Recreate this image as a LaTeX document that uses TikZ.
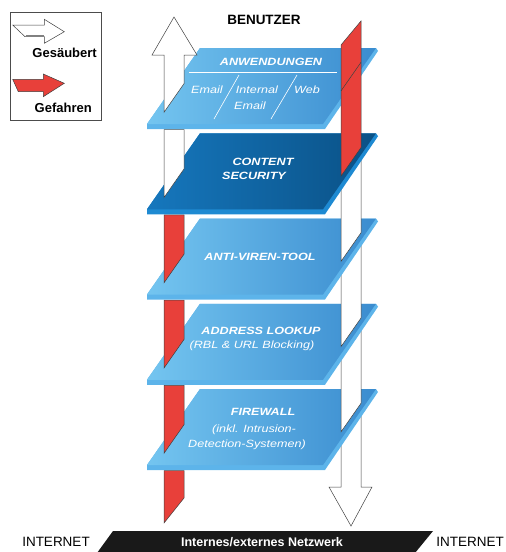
\documentclass[tikz,border=0pt]{standalone}
\usepackage{fontspec}
\setmainfont{Liberation Sans}
\newfontfamily\platebf[FakeStretch=1.2]{Liberation Sans Bold Italic}
\newfontfamily\plateit[FakeStretch=1.2]{Liberation Sans Italic}
\usetikzlibrary{positioning}

\definecolor{plateL}{HTML}{74C5F0}
\definecolor{plateR}{HTML}{3A8CCF}
\definecolor{plateEdge}{HTML}{5DB4EA}
\definecolor{secL}{HTML}{1677BD}
\definecolor{secR}{HTML}{0A5186}
\definecolor{secEdge}{HTML}{1E8AD2}
\definecolor{dangerred}{HTML}{E8403A}

% one layer plate, #1 = top edge, #2/#3 = shade left/right, #4 = edge colour
\newcommand{\drawlayer}[4]{%
  \fill[#4] (200,#1) -- (376,#1) -- (378,#1+3) -- (325,#1+81) -- (147,#1+81) -- (147,#1+76) -- cycle;
  \shade[left color=#2, right color=#3] (200,#1) -- (376,#1) -- (323,#1+76) -- (147,#1+76) -- cycle;
}
% bar pieces, cut off where they enter the plate with top #3
\newcommand{\leftpiece}[3]{%
  \filldraw[barline, fill=#1] (164,#2) -- (184,#2) -- (184,#3+35.7) -- (164,#3+64.3) -- cycle;
}
\newcommand{\rightpiece}[3]{%
  \filldraw[barline, fill=#1] (341,#2) -- (361,#2) -- (361,#3+14.3) -- (341,#3+42.9) -- cycle;
}

\def\topA{48}
\def\topB{133.25}
\def\topC{218.5}
\def\topD{303.75}
\def\topE{389}

\begin{document}
\begin{tikzpicture}[
    x=1pt, y=-1pt,
    barline/.style={draw=black!75, line width=0.5pt},
    platetitle/.style={text=white, inner sep=0pt, font=\platebf\fontsize{10.5}{12}\selectfont},
    platesub/.style={text=white, inner sep=0pt, font=\plateit\fontsize{10.5}{12}\selectfont},
    legendtext/.style={inner sep=0pt, font=\bfseries\fontsize{13}{15}\selectfont},
    nettext/.style={inner sep=0pt, font=\fontsize{13.5}{15}\selectfont}
]
\useasboundingbox (0,0) rectangle (506,552);

% Legend
\draw[black!70, line width=0.6pt] (10,12) rectangle (101,120);
\filldraw[barline, fill=white] (12.7,25) -- (44.3,25) -- (44.3,19.3) -- (64.3,31.7) -- (44.3,43.3) -- (44.3,36.7) -- (25,36.7) -- cycle;
\draw[gray, line width=1.2pt] (25.5,35.8) -- (44,35.8);
\node[legendtext, anchor=east] (clean) at (97,53) {Gesäubert};
\filldraw[barline, fill=dangerred] (12.7,79.3) -- (43.3,79.3) -- (43.3,74) -- (64.3,83.3) -- (43.3,96.7) -- (43.3,91.7) -- (18.3,91.7) -- cycle;
\node[legendtext, anchor=east] (danger) at (92,108) {Gefahren};

\node[inner sep=0pt, font=\bfseries\fontsize{13.5}{15}\selectfont] (user) at (264,20) {BENUTZER};

% Network at the bottom
\fill[black!90] (113,531) -- (433,531) -- (415,553) -- (97,553) -- cycle;
\node[inner sep=0pt, text=white, font=\bfseries\fontsize{12.5}{14}\selectfont] (net) at (262,542) {Internes/externes Netzwerk};
\node[nettext] (inetL) at (56,542) {INTERNET};
\node[nettext] (inetR) at (470,542) {INTERNET};

% Stack, drawn from the bottom up
\filldraw[barline, fill=dangerred] (164,\topE+81.5) -- (184,\topE+81.5) -- (184,498) -- (164,523) -- cycle;
\filldraw[barline, fill=white] (341,\topE+20) -- (361,\topE+20) -- (361,487) -- (372,487) -- (351,526) -- (329,487) -- (341,487) -- cycle;
\drawlayer{\topE}{plateL}{plateR}{plateEdge}
\leftpiece{dangerred}{\topD+81.5}{\topE}
\rightpiece{white}{\topD+20}{\topE}
\drawlayer{\topD}{plateL}{plateR}{plateEdge}
\leftpiece{dangerred}{\topC+81.5}{\topD}
\rightpiece{white}{\topC+20}{\topD}
\drawlayer{\topC}{plateL}{plateR}{plateEdge}
\leftpiece{dangerred}{\topB+81.5}{\topC}
\rightpiece{white}{\topB+20}{\topC}
\drawlayer{\topB}{secL}{secR}{secEdge}
\leftpiece{white}{\topA+81.5}{\topB}
\drawlayer{\topA}{plateL}{plateR}{plateEdge}

% Up arrow (left) and red bar (right) on top
\filldraw[barline, fill=white] (164,\topA+64.3) -- (164,55) -- (152,55) -- (174,17) -- (197,55) -- (184,55) -- (184,\topA+35.7) -- cycle;
\filldraw[barline, fill=dangerred] (341,45) -- (361,21) -- (361,\topB+14.3) -- (341,\topB+42.9) -- cycle;
\draw[barline] (341,\topA+42.9) -- (361,\topA+14.3);

% Applications plate
\node[platetitle] (apps) at (271,62) {ANWENDUNGEN};
\draw[white, line width=0.8pt] (189,72) -- (337,72);
\draw[white, line width=0.6pt] (239,75) -- (214,119);
\draw[white, line width=0.6pt] (297,75) -- (271,119);
\node[platesub] (mail) at (207,90) {Email};
\node[platesub] (intern) at (257,90) {Internal};
\node[platesub, below of=intern, node distance=16pt, xshift=-7pt] (intern2) {Email};
\node[platesub] (web) at (307,90) {Web};

% Other plates
\node[platetitle] (sec1) at (263,162) {CONTENT};
\node[platetitle, below of=sec1, node distance=14pt, xshift=-9pt] (sec2) {SECURITY};
\node[platetitle] (virus) at (260,257) {ANTI-VIREN-TOOL};
\node[platetitle] (addr1) at (261,331) {ADDRESS LOOKUP};
\node[platesub, below of=addr1, node distance=15pt, xshift=-9pt] (addr2) {(RBL \& URL Blocking)};
\node[platetitle] (fw1) at (263,412) {FIREWALL};
\node[platesub, below of=fw1, node distance=18pt, xshift=-9pt] (fw2) {(inkl. Intrusion-};
\node[platesub, below of=fw2, node distance=15pt, xshift=-7pt] (fw3) {Detection-Systemen)};

\end{tikzpicture}
\end{document}
